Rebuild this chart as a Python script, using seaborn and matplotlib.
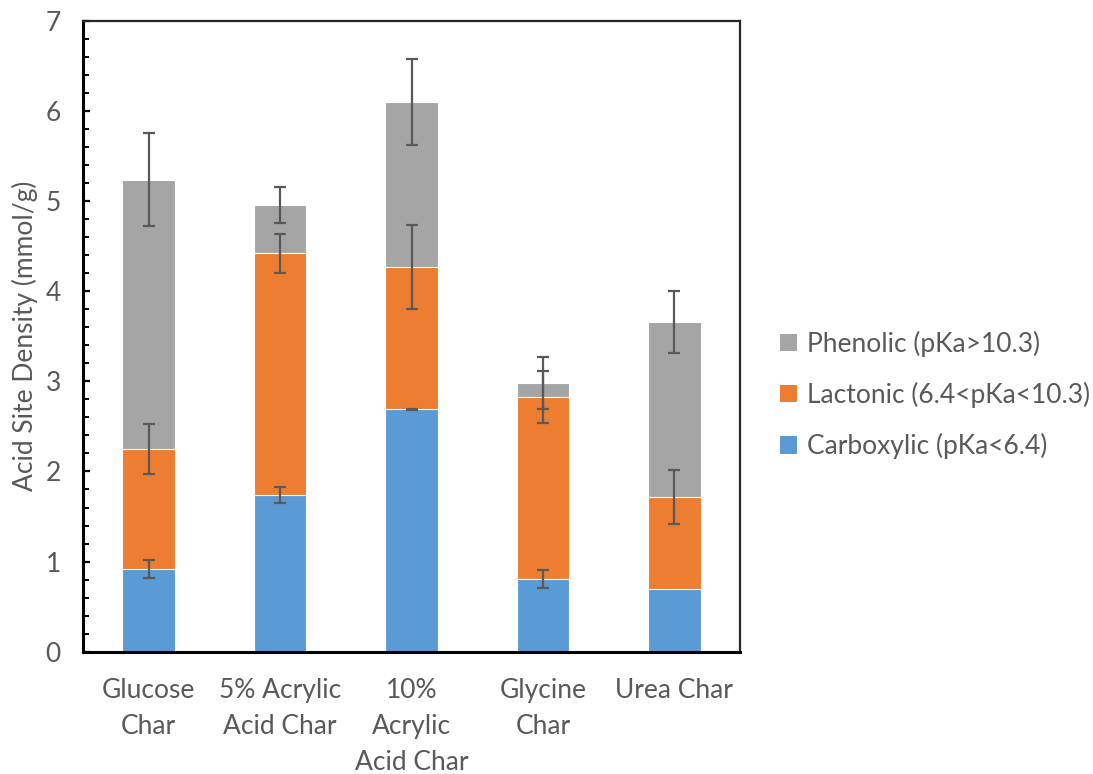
import numpy as np
import matplotlib
matplotlib.use("Agg")
import matplotlib.pyplot as plt
import seaborn as sns
from matplotlib.ticker import MultipleLocator
from matplotlib.patches import Patch

# Acid site density by char type (mmol/g), one array per acid group
categories = ["Glucose\nChar", "5% Acrylic\nAcid Char", "10%\nAcrylic\nAcid Char",
              "Glycine\nChar", "Urea Char"]
carboxylic = [0.92, 1.74, 2.69, 0.81, 0.70]
lactonic = [1.33, 2.68, 1.58, 2.02, 1.02]
phenolic = [2.99, 0.54, 1.83, 0.15, 1.94]
carboxylic_err = [0.10, 0.09, 0.005, 0.10, np.nan]
lactonic_err = [0.28, 0.22, 0.47, 0.29, 0.30]
phenolic_err = [0.52, 0.20, 0.48, 0.29, 0.34]

series_names = ["Carboxylic (pKa<6.4)", "Lactonic (6.4<pKa<10.3)", "Phenolic (pKa>10.3)"]
colors = ["#5B9BD5", "#ED7D31", "#A5A5A5"]
text_color = "#595959"
fs = 19

sns.set_theme(style="white")
plt.rcParams["font.family"] = ["Lato", "DejaVu Sans"]
plt.rcParams["text.color"] = text_color

fig = plt.figure(figsize=(10.93, 7.74), dpi=100)
ax = fig.add_axes([0.076, 0.158, 0.601, 0.815])

# Cumulative tops for the stacked layers
c1 = np.array(carboxylic)
c2 = c1 + np.array(lactonic)
c3 = c2 + np.array(phenolic)

# Draw tallest layer first so the lower layers sit on top of it
for tops, col in zip([c3, c2, c1], [colors[2], colors[1], colors[0]]):
    sns.barplot(x=categories, y=tops, color=col, saturation=1, width=0.4,
                edgecolor="white", linewidth=0.8, ax=ax)

xs = np.arange(len(categories))
for tops, err in zip([c1, c2, c3], [carboxylic_err, lactonic_err, phenolic_err]):
    err = np.array(err, dtype=float)
    mask = ~np.isnan(err)
    ax.errorbar(xs[mask], tops[mask], yerr=err[mask], fmt="none",
                ecolor="#595959", elinewidth=1.6, capsize=4.4, capthick=1.6, zorder=5)

ax.set_xlim(-0.5, 4.5)
ax.set_ylim(0, 7)
ax.yaxis.set_major_locator(MultipleLocator(1))
ax.yaxis.set_minor_locator(MultipleLocator(0.2))
ax.tick_params(axis="y", which="major", direction="in", length=5, width=1.6,
               color="black", left=True, labelsize=fs, labelcolor=text_color, pad=16)
ax.tick_params(axis="y", which="minor", direction="in", length=4, width=1.4,
               color="black", left=True)
ax.tick_params(axis="x", which="both", bottom=False, labelsize=fs,
               labelcolor=text_color, pad=13)
for lbl in ax.get_xticklabels():
    lbl.set_linespacing(1.55)

for side in ["left", "bottom"]:
    ax.spines[side].set_color("black")
    ax.spines[side].set_linewidth(2.2)
for side in ["top", "right"]:
    ax.spines[side].set_color("#262626")
    ax.spines[side].set_linewidth(1.6)

ax.set_xlabel("")
ax.set_ylabel("Acid Site Density (mmol/g)", fontsize=fs, color=text_color)
ax.yaxis.set_label_coords(-0.068, 0.50)

handles = [Patch(facecolor=colors[i], edgecolor="none") for i in (2, 1, 0)]
labels = [series_names[i] for i in (2, 1, 0)]
fig.legend(handles, labels, loc="center left", bbox_to_anchor=(0.697, 0.490),
           frameon=False, fontsize=fs, handlelength=0.65, handleheight=0.65,
           handletextpad=0.35, labelspacing=0.95, labelcolor=text_color,
           borderpad=0.2)

fig.savefig("out.png", dpi=100)
